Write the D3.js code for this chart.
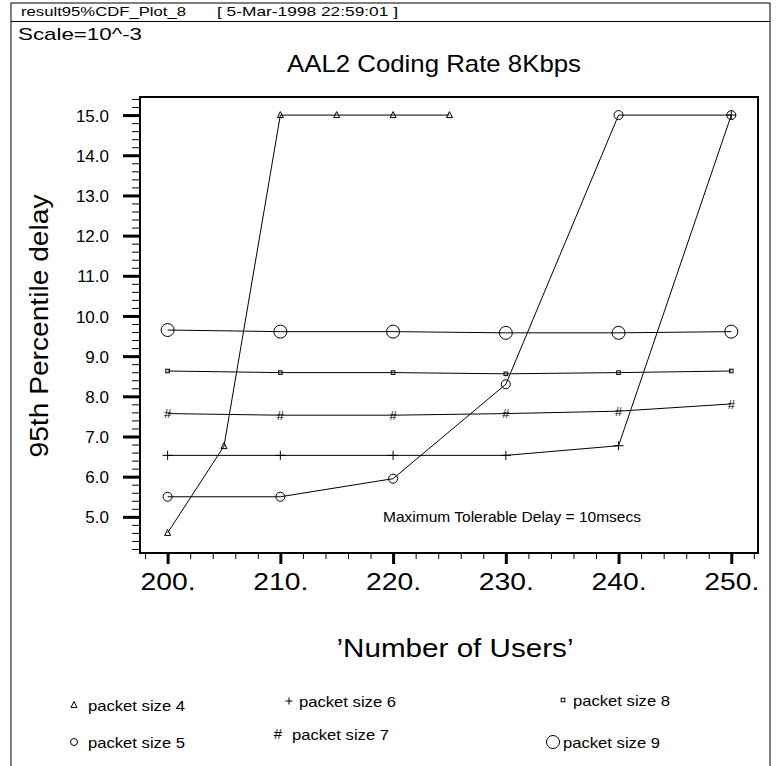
<!DOCTYPE html>
<html>
<head>
<meta charset="utf-8">
<script src="https://cdn.jsdelivr.net/npm/d3@7"></script>
<style>
  body { margin: 0; background: #fff; }
  svg text { font-family: "Liberation Sans", Arial, sans-serif; fill: #000; }
</style>
</head>
<body>
<svg id="chart" width="777" height="766"></svg>
<script>
// number of users on the x axis
const users = [200, 210, 220, 230, 240, 250];
// packet size 4 was only run up to 225 users
const users4 = [200, 205, 210, 215, 220, 225];

// 95th percentile delay (scale 10^-3)
const size4 = [4.60, 6.76, 15.0, 15.0, 15.0, 15.0];
const size5 = [5.50, 5.50, 5.95, 8.30, 15.0, 15.0];
const size6 = [6.53, 6.53, 6.53, 6.53, 6.77, 15.0];
const size7 = [7.57, 7.53, 7.53, 7.57, 7.63, 7.81];
const size8 = [8.63, 8.59, 8.59, 8.56, 8.59, 8.63];
const size9 = [9.65, 9.61, 9.61, 9.58, 9.58, 9.61];

const yTicks = [5, 6, 7, 8, 9, 10, 11, 12, 13, 14, 15];
const xTicks = [200, 210, 220, 230, 240, 250];

const svg = d3.select('#chart');

// plot box
const box = { left: 140, top: 97, right: 758, bottom: 553 };
const x = d3.scaleLinear().domain([197.55, 252.37]).range([box.left, box.right]);
const y = d3.scaleLinear().domain([4.1, 15.45]).range([box.bottom, box.top]);

// text helper, stretched to the width seen in the original print
function label(parent, str, px, py, size, width, anchor) {
  const t = parent.append('text')
    .attr('x', px)
    .attr('y', py)
    .attr('font-size', size)
    .attr('text-anchor', anchor || 'start')
    .text(str);
  if (width) t.attr('textLength', width).attr('lengthAdjust', 'spacingAndGlyphs');
  return t;
}

// page frame and header
svg.append('rect')
  .attr('x', 11).attr('y', 3).attr('width', 759).attr('height', 800)
  .attr('fill', 'none').attr('stroke', '#000').attr('stroke-width', 1);
svg.append('line')
  .attr('x1', 11).attr('x2', 770).attr('y1', 21.5).attr('y2', 21.5)
  .attr('stroke', '#000');
label(svg, 'result95%CDF_Plot_8', 21, 16, 13, 165);
label(svg, '[ 5-Mar-1998 22:59:01 ]', 217, 16, 13, 181);
label(svg, 'Scale=10^-3', 18, 40, 17, 124);
label(svg, 'AAL2 Coding Rate 8Kbps', 434, 72, 24, 294, 'middle');

// y axis: major ticks with labels, minor every 0.2
const yAxis = d3.axisLeft(y)
  .tickValues(yTicks)
  .tickSize(17)
  .tickFormat(d3.format('.1f'));
const yg = svg.append('g')
  .attr('transform', `translate(${box.left},0)`)
  .call(yAxis);
yg.select('.domain').remove();
yg.selectAll('.tick line').attr('stroke-width', 3);
yg.selectAll('.tick text')
  .attr('font-size', 17)
  .attr('x', -31)
  .attr('dy', '0.36em')
  .attr('font-family', '"Liberation Sans", Arial, sans-serif');

const yMinor = d3.range(42, 155, 2).map((d) => d / 10).filter((d) => d % 1 !== 0);
svg.append('g')
  .attr('transform', `translate(${box.left},0)`)
  .call(d3.axisLeft(y).tickValues(yMinor).tickSize(8).tickFormat(''))
  .call((g) => g.select('.domain').remove());

// x axis: major every 10, minor every 2
const xAxis = d3.axisBottom(x)
  .tickValues(xTicks)
  .tickSize(11)
  .tickFormat((d) => d + '.');
const xg = svg.append('g')
  .attr('transform', `translate(0,${box.bottom})`)
  .call(xAxis);
xg.select('.domain').remove();
xg.selectAll('.tick line').attr('stroke-width', 3);
xg.selectAll('.tick text')
  .attr('font-size', 24)
  .attr('y', 20)
  .attr('dy', '0.71em')
  .attr('textLength', 55)
  .attr('lengthAdjust', 'spacingAndGlyphs')
  .attr('font-family', '"Liberation Sans", Arial, sans-serif');

const xMinor = d3.range(198, 253, 2).filter((d) => d % 10 !== 0);
svg.append('g')
  .attr('transform', `translate(0,${box.bottom})`)
  .call(d3.axisBottom(x).tickValues(xMinor).tickSize(6).tickFormat(''))
  .call((g) => g.select('.domain').remove());

// plot frame
svg.append('rect')
  .attr('x', box.left).attr('y', box.top)
  .attr('width', box.right - box.left).attr('height', box.bottom - box.top)
  .attr('fill', 'none').attr('stroke', '#000').attr('stroke-width', 2);

// axis titles
label(svg, '95th Percentile delay', 0, 0, 25, 263, 'middle')
  .attr('transform', 'translate(48,326) rotate(-90)');
label(svg, '\u2019Number of Users\u2019', 455, 657, 25, 237, 'middle');

// marker shapes
const markers = {
  tri: (g) => g.append('path').attr('d', 'M0,-3.5L3,2.5L-3,2.5Z'),
  smallCircle: (g) => g.append('circle').attr('r', 4.5),
  bigCircle: (g) => g.append('circle').attr('r', 6.5),
  plus: (g) => g.append('path').attr('d', 'M-5,0H5M0,-4.5V4.5'),
  square: (g) => g.append('rect').attr('x', -1.8).attr('y', -1.8).attr('width', 3.6).attr('height', 3.6),
  hash: (g) => g.append('text').attr('font-size', 13).attr('text-anchor', 'middle').attr('dy', '0.36em').text('#')
};

const series = [
  { name: 'packet size 4', xs: users4, ys: size4, marker: 'tri' },
  { name: 'packet size 5', xs: users, ys: size5, marker: 'smallCircle' },
  { name: 'packet size 6', xs: users, ys: size6, marker: 'plus' },
  { name: 'packet size 7', xs: users, ys: size7, marker: 'hash' },
  { name: 'packet size 8', xs: users, ys: size8, marker: 'square' },
  { name: 'packet size 9', xs: users, ys: size9, marker: 'bigCircle' }
];

const line = d3.line().x((d) => x(d[0])).y((d) => y(d[1]));

series.forEach((s) => {
  const pts = s.xs.map((u, i) => [u, s.ys[i]]);
  svg.append('path')
    .attr('d', line(pts))
    .attr('fill', 'none')
    .attr('stroke', '#000')
    .attr('stroke-width', 1);
  pts.forEach((p) => {
    const g = svg.append('g')
      .attr('transform', `translate(${x(p[0])},${y(p[1])})`)
      .attr('fill', 'none')
      .attr('stroke', '#000')
      .attr('stroke-width', 1);
    const m = markers[s.marker](g);
    if (s.marker === 'hash') m.attr('fill', '#000').attr('stroke', 'none');
  });
});

label(svg, 'Maximum Tolerable Delay = 10msecs', 383, 522, 14, 258);

// legend, three columns of two entries as in the print
const legend = [
  { s: 0, mx: 74, my: 705, tx: 88, ty: 711 },
  { s: 1, mx: 74, my: 742, tx: 88, ty: 748 },
  { s: 2, mx: 289, my: 701, tx: 299, ty: 707 },
  { s: 3, mx: 278, my: 734, tx: 292, ty: 740 },
  { s: 4, mx: 563, my: 700, tx: 573, ty: 706 },
  { s: 5, mx: 553, my: 742, tx: 563, ty: 748 }
];
const legendMarkers = {
  smallCircle: (g) => g.append('circle').attr('r', 3.5),
  plus: (g) => g.append('path').attr('d', 'M-3.5,0H3.5M0,-3.5V3.5')
};

legend.forEach((l) => {
  const s = series[l.s];
  const g = svg.append('g')
    .attr('transform', `translate(${l.mx},${l.my})`)
    .attr('fill', 'none')
    .attr('stroke', '#000')
    .attr('stroke-width', 1);
  const m = (legendMarkers[s.marker] || markers[s.marker])(g);
  if (s.marker === 'hash') m.attr('fill', '#000').attr('stroke', 'none').attr('font-size', 15);
  label(svg, s.name, l.tx, l.ty, 15, 97);
});
</script>
</body>
</html>
